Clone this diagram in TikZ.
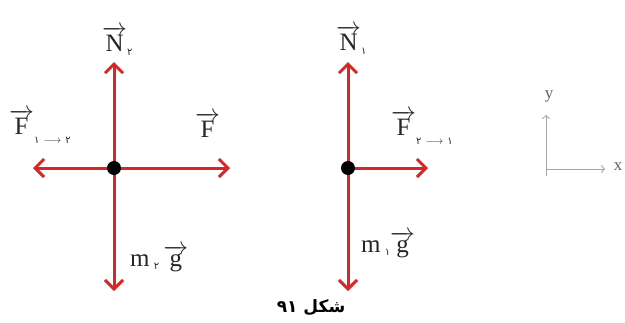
\documentclass[tikz,border=0pt]{standalone}
\usepackage{fontspec}
\setmainfont{Liberation Serif}
\newfontfamily\arabicfont[Script=Arabic]{DejaVu Sans}
\TeXXeTstate=1
\usetikzlibrary{arrows.meta}
\definecolor{forcered}{RGB}{215,38,38}
\newcommand{\pd}[1]{{\arabicfont\fontsize{10}{10}\selectfont #1}}
\newcommand{\vecr}[1]{$\overrightarrow{\mathrm{#1}}$}
\newcommand{\fsub}[2]{\raisebox{-9pt}{\pd{#1}\,{\fontsize{11}{11}\selectfont$\longrightarrow$}\,\pd{#2}}}
\begin{document}
\begin{tikzpicture}[x=1pt,y=-1pt,
  force/.style={draw=forcered,line width=3pt,-{Straight Barb[length=9pt,width=18pt,line width=3pt]}},
  axis/.style={draw=gray!70,line width=0.9pt,-{Straight Barb[length=3pt,width=7pt]}},
  lbl/.style={font=\fontsize{25}{25}\selectfont,inner sep=0pt,anchor=base west,text=black!85},
  axlbl/.style={font=\fontsize{17}{17}\selectfont,inner sep=0pt,text=gray!75!black}]
\useasboundingbox (0,0) rectangle (625,322);
% left body
\coordinate (c1) at (114,168);
\coordinate (u1) at (114,62);
\coordinate (d1) at (114,291);
\coordinate (l1) at (33,168);
\coordinate (r1) at (230,168);
\draw[force] (c1) -- (u1);
\draw[force] (c1) -- (d1);
\draw[force] (c1) -- (l1);
\draw[force] (c1) -- (r1);
\fill[black] (c1) circle (7pt);
\node[lbl] (n2) at (102,51) {\vecr{N}\raisebox{-4pt}{\pd{۲}}};
\node[lbl] (f12) at (9,134) {\vecr{F}\fsub{۱}{۲}};
\node[lbl] (f) at (195,137) {\vecr{F}};
\node[lbl] (m2g) at (130,266) {m\,\raisebox{-3pt}{\pd{۲}}\,\vecr{g}};
% right body
\coordinate (c2) at (348,168);
\coordinate (u2) at (348,62);
\coordinate (d2) at (348,291);
\coordinate (r2) at (428,168);
\draw[force] (c2) -- (u2);
\draw[force] (c2) -- (d2);
\draw[force] (c2) -- (r2);
\fill[black] (c2) circle (7pt);
\node[lbl] (n1) at (336,50) {\vecr{N}\raisebox{-4pt}{\pd{۱}}};
\node[lbl] (f21) at (391,135) {\vecr{F}\fsub{۲}{۱}};
\node[lbl] (m1g) at (361,252) {m\,\raisebox{-3pt}{\pd{۱}}\vecr{g}};
% axes
\coordinate (o) at (546,169);
\coordinate (ay) at (546,115);
\coordinate (ax) at (605,169);
\draw[axis] (o) -- (ay);
\draw[axis] (o) -- (ax);
\draw[gray!70,line width=0.9pt] (o) -- (546,176);
\node[axlbl] (ylbl) at (549,96) {y};
\node[axlbl] (xlbl) at (618,167) {x};
% caption
\node[inner sep=0pt,font=\arabicfont\bfseries\fontsize{17}{17}\selectfont] (cap) at (311,308) {\beginR شکل ۹۱\endR};
\end{tikzpicture}
\end{document}
